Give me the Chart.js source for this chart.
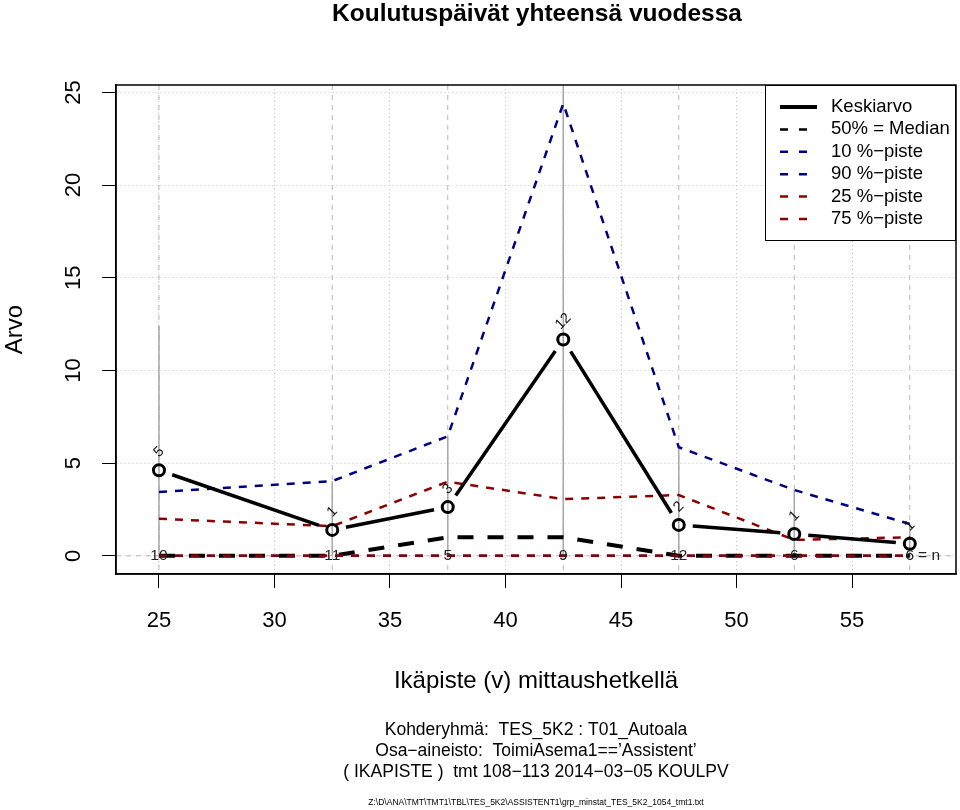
<!DOCTYPE html>
<html><head><meta charset="utf-8">
<script src="https://cdn.jsdelivr.net/npm/chart.js@4.4.0/dist/chart.umd.min.js"></script>
<style>html,body{margin:0;padding:0;background:#fff}#wrap{width:960px;height:810px}</style>
</head><body><div id="wrap"><canvas id="c" width="960" height="810"></canvas></div>
<script>
// ---- data ----
const ageGroups    = [25, 32.5, 37.5, 42.5, 47.5, 52.5, 57.5];
const meanValues   = [4.62, 1.40, 2.63, 11.67, 1.67, 1.18, 0.65];
const medianValues = [0, 0, 1, 1, 0, 0, 0];
const p10Values    = [0, 0, 0, 0, 0, 0, 0];
const p90Values    = [3.44, 4.03, 6.45, 24.4, 5.86, 3.55, 1.72];
const p25Values    = [0, 0, 0, 0, 0, 0, 0];
const p75Values    = [2.0, 1.6, 4.0, 3.06, 3.28, 0.86, 1.0];
const maxValues    = [12.4, 4.03, 6.45, 30, 5.86, 3.55, 1.72];
const countLabels  = ['5', '1', '3', '12', '2', '1', '1'];
const nLabels      = ['10', '11', '5', '9', '12', '6', '6'];
const nSuffix      = '= n';
const seriesLabels = ['Keskiarvo', '50% = Median', '10 %\u2212piste', '90 %\u2212piste', '25 %\u2212piste', '75 %\u2212piste'];
const titleText    = 'Koulutuspäivät yhteensä vuodessa';
const xTitle       = 'Ikäpiste (v) mittaushetkellä';
const yTitle       = 'Arvo';
const footerLines  = ['Kohderyhmä:  TES_5K2 : T01_Autoala', 'Osa\u2212aineisto:  ToimiAsema1==\u2019Assistent\u2019', '( IKAPISTE )  tmt 108\u2212113 2014\u221203\u221205 KOULPV'];
const fileLine     = 'Z:\\D\\ANA\\TMT\\TMT1\\TBL\\TES_5K2\\ASSISTENT1\\grp_minstat_TES_5K2_1054_tmt1.txt';

const FONT = '"Liberation Sans", Arial, Helvetica, sans-serif';
const NAVY = '#000080', DRED = '#8b0000';
const GAP = 14;
const pts = arr => ageGroups.map((x, i) => ({x: x, y: arr[i]}));

const decor = {
  id: 'decor',
  beforeDatasetsDraw(chart) {
    const {ctx, chartArea: a, scales: {x, y}} = chart;
    ctx.save();
    ctx.beginPath(); ctx.rect(a.left, a.top, a.right - a.left, a.bottom - a.top); ctx.clip();
    ctx.strokeStyle = '#b8b8b8'; ctx.lineWidth = 1; ctx.setLineDash([5, 5]);
    ageGroups.forEach(v => {
      const px = x.getPixelForValue(v);
      ctx.beginPath(); ctx.moveTo(px, a.top); ctx.lineTo(px, a.bottom); ctx.stroke();
    });
    const y0 = y.getPixelForValue(0);
    ctx.beginPath(); ctx.moveTo(a.left, y0); ctx.lineTo(a.right, y0); ctx.stroke();
    ctx.setLineDash([]); ctx.strokeStyle = '#a8a8a8'; ctx.lineWidth = 1.5;
    ageGroups.forEach((v, i) => {
      const px = x.getPixelForValue(v);
      ctx.beginPath(); ctx.moveTo(px, y0); ctx.lineTo(px, y.getPixelForValue(maxValues[i])); ctx.stroke();
    });
    ctx.restore();
  },
  afterDatasetsDraw(chart) {
    const {ctx, scales: {x, y}} = chart;
    ctx.save();
    ctx.fillStyle = '#111';
    ctx.font = '14.5px ' + FONT;
    ctx.textAlign = 'center'; ctx.textBaseline = 'middle';
    ageGroups.forEach((v, i) => {
      const px = x.getPixelForValue(v), py = y.getPixelForValue(meanValues[i]) - 18;
      ctx.save(); ctx.translate(px, py); ctx.rotate(-45 * Math.PI / 180);
      ctx.fillText(countLabels[i], 0, 0); ctx.restore();
    });
    ctx.font = '15.5px ' + FONT; ctx.fillStyle = '#222';
    const y0 = y.getPixelForValue(0);
    ageGroups.forEach((v, i) => {
      const px = x.getPixelForValue(v);
      ctx.textAlign = 'center';
      ctx.fillText(nLabels[i], px, y0);
      if (i === ageGroups.length - 1) {
        ctx.textAlign = 'left';
        ctx.fillText(nSuffix, px + ctx.measureText(nLabels[i]).width / 2 + 4, y0);
      }
    });
    ctx.restore();
  },
  afterDraw(chart) {
    const {ctx, chartArea: a} = chart;
    ctx.save();
    // plot box
    ctx.strokeStyle = '#000'; ctx.lineWidth = 1.5; ctx.setLineDash([]);
    ctx.strokeRect(a.left, a.top, a.right - a.left, a.bottom - a.top);
    // legend
    const lw = 191, lh = 155, lx = a.right - lw, ly = a.top;
    ctx.fillStyle = '#fff'; ctx.fillRect(lx, ly, lw, lh);
    ctx.lineWidth = 1; ctx.strokeRect(lx + 0.5, ly + 0.5, lw - 1, lh);
    chart.data.datasets.forEach((ds, i) => {
      const ry = ly + 22 + i * 22.4;
      ctx.save();
      ctx.strokeStyle = ds.borderColor;
      if (i === 0) { ctx.lineWidth = 4; ctx.setLineDash([]); }
      else { ctx.lineWidth = 2.5; ctx.setLineDash([8, 11]); }
      ctx.beginPath(); ctx.moveTo(lx + 15, ry); ctx.lineTo(lx + (i === 0 ? 52 : 45), ry); ctx.stroke();
      ctx.restore();
      ctx.fillStyle = '#000'; ctx.font = '18.5px ' + FONT;
      ctx.textAlign = 'left'; ctx.textBaseline = 'middle';
      ctx.fillText(ds.label, lx + 66, ry);
    });
    // title
    const cx = (a.left + a.right) / 2;
    ctx.fillStyle = '#000'; ctx.textAlign = 'center'; ctx.textBaseline = 'middle';
    ctx.font = 'bold 24.5px ' + FONT;
    ctx.fillText(titleText, cx + 1, 14);
    // footers
    ctx.font = '17.5px ' + FONT;
    footerLines.forEach((t, i) => ctx.fillText(t, cx, 730 + i * 21));
    ctx.font = '8.5px ' + FONT;
    ctx.fillText(fileLine, cx, 803);
    ctx.restore();
  }
};

const gridCommon = {color: '#c8c8c8', lineWidth: 1, tickColor: '#000', tickLength: 14, tickWidth: 1, tickBorderDash: []};

new Chart(document.getElementById('c'), {
  type: 'line',
  data: {
    datasets: [
      {label: seriesLabels[0], data: pts(meanValues), order: 0, borderColor: '#000', borderWidth: 3.5, borderCapStyle: 'butt',
       pointRadius: 5.5, pointBorderWidth: 3, pointBorderColor: '#000', pointBackgroundColor: 'rgba(0,0,0,0)',
       segment: {borderDash: c => {
         const L = Math.hypot(c.p1.x - c.p0.x, c.p1.y - c.p0.y);
         return L > 2 * GAP ? [0, GAP, L - 2 * GAP, L + GAP] : [0, L + 1];
       }}},
      {label: seriesLabels[1], data: pts(medianValues), order: 2, borderColor: '#000', borderWidth: 4, borderDash: [16, 14], pointRadius: 0},
      {label: seriesLabels[2], data: pts(p10Values), order: 4, borderColor: NAVY, borderWidth: 2.5, borderDash: [8, 8], pointRadius: 0},
      {label: seriesLabels[3], data: pts(p90Values), order: 3, borderColor: NAVY, borderWidth: 2.5, borderDash: [8, 8], pointRadius: 0},
      {label: seriesLabels[4], data: pts(p25Values), order: 1, borderColor: DRED, borderWidth: 2.5, borderDash: [8, 8], pointRadius: 0},
      {label: seriesLabels[5], data: pts(p75Values), order: 1, borderColor: DRED, borderWidth: 2.5, borderDash: [8, 8], pointRadius: 0}
    ]
  },
  options: {
    responsive: false, animation: false, devicePixelRatio: 1,
    layout: {autoPadding: false, padding: {top: 85, right: 4, left: 0, bottom: 0}},
    plugins: {legend: {display: false}, tooltip: {enabled: false}, title: {display: false}},
    scales: {
      x: {type: 'linear', min: 23.14, max: 59.5,
        ticks: {stepSize: 5, includeBounds: false, minRotation: 0, maxRotation: 0, padding: 20, color: '#000', font: {size: 22, family: FONT}},
        grid: gridCommon, border: {display: true, color: '#000', width: 1.5, dash: [1, 3]},
        title: {display: true, text: xTitle, color: '#000', font: {size: 24, family: FONT}, padding: {top: 0, bottom: 114}},
        afterFit: s => { s.height = 236; s.paddingLeft = 0; s.paddingRight = 0; }},
      y: {type: 'linear', min: -0.98, max: 25.4,
        ticks: {stepSize: 5, includeBounds: false, minRotation: 90, maxRotation: 90, crossAlign: 'center', padding: 16, color: '#000', font: {size: 22, family: FONT}},
        grid: gridCommon, border: {display: true, color: '#000', width: 1.5, dash: [1, 3]},
        title: {display: true, text: yTitle, color: '#000', font: {size: 24, family: FONT}, padding: {top: 1, bottom: 0}},
        afterFit: s => { s.width = 116; s.paddingTop = 0; s.paddingBottom = 0; }}
    }
  },
  plugins: [decor]
});
</script></body></html>
